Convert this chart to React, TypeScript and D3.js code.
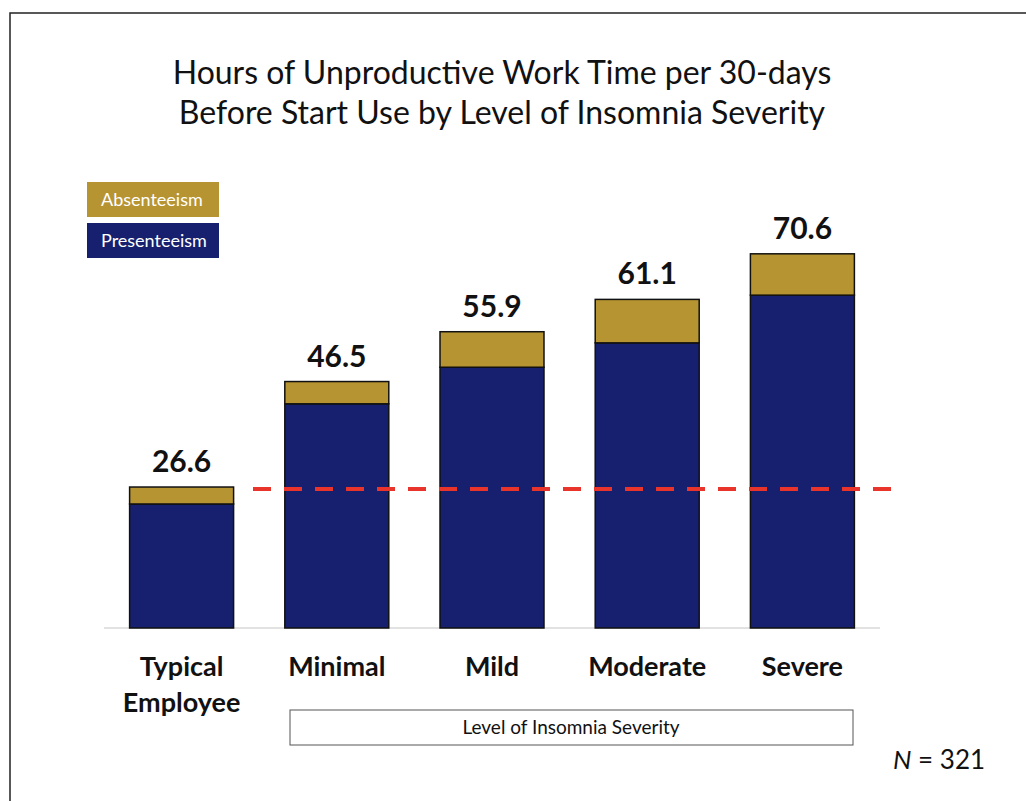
import React, { useEffect, useRef } from 'react';
import * as d3 from 'd3';

const categories = ['Typical\nEmployee', 'Minimal', 'Mild', 'Moderate', 'Severe'];
const presenteeism = [23.4, 42.3, 49.2, 53.8, 62.8];
const absenteeism = [3.2, 4.2, 6.7, 8.2, 7.8];
const totals = ['26.6', '46.5', '55.9', '61.1', '70.6'];
const referenceValue = 26.6;
const seriesNames = ['Absenteeism', 'Presenteeism'];
const titleLines = [
  'Hours of Unproductive Work Time per 30-days',
  'Before Start Use by Level of Insomnia Severity',
];

const GOLD = '#b79432';
const NAVY = '#16206e';
const FONT = 'Lato, "Open Sans", sans-serif';

const App = () => {
  const svgRef = useRef<SVGSVGElement>(null);

  useEffect(() => {
    const width = 1026;
    const height = 801;
    const svg = d3.select(svgRef.current).attr('width', width).attr('height', height);
    svg.selectAll('*').remove();

    // outer frame (runs off the right and bottom)
    svg.append('rect')
      .attr('x', 10).attr('y', 13)
      .attr('width', 1030).attr('height', 800)
      .attr('fill', '#fff').attr('stroke', '#222').attr('stroke-width', 1.5);

    svg.selectAll('text.title')
      .data(titleLines)
      .join('text')
      .attr('class', 'title')
      .attr('x', 502)
      .attr('y', (d, i) => 84 + i * 40)
      .attr('text-anchor', 'middle')
      .style('font-family', FONT)
      .style('font-size', '32px')
      .attr('fill', '#111')
      .text(d => d);

    const x = d3.scaleBand()
      .domain(categories)
      .range([104, 880])
      .paddingInner(0.33)
      .paddingOuter(0.165);

    const y = d3.scaleLinear().domain([0, 80]).range([628, 204]);

    const stacked = categories.map((c, i) => ({ c, p: presenteeism[i], a: absenteeism[i], t: totals[i] }));

    const g = svg.append('g');

    // baseline
    g.append('line')
      .attr('x1', 104).attr('x2', 880)
      .attr('y1', y(0)).attr('y2', y(0))
      .attr('stroke', '#d9d9d9').attr('stroke-width', 1.5);

    g.selectAll('rect.pres')
      .data(stacked)
      .join('rect')
      .attr('class', 'pres')
      .attr('x', d => x(d.c)!)
      .attr('width', x.bandwidth())
      .attr('y', d => y(d.p))
      .attr('height', d => y(0) - y(d.p))
      .attr('fill', NAVY)
      .attr('stroke', '#111')
      .attr('stroke-width', 1.5);

    g.selectAll('rect.abs')
      .data(stacked)
      .join('rect')
      .attr('class', 'abs')
      .attr('x', d => x(d.c)!)
      .attr('width', x.bandwidth())
      .attr('y', d => y(d.p + d.a))
      .attr('height', d => y(d.p) - y(d.p + d.a))
      .attr('fill', GOLD)
      .attr('stroke', '#111')
      .attr('stroke-width', 1.5);

    g.selectAll('text.total')
      .data(stacked)
      .join('text')
      .attr('class', 'total')
      .attr('x', d => x(d.c)! + x.bandwidth() / 2)
      .attr('y', d => y(d.p + d.a) - 15)
      .attr('text-anchor', 'middle')
      .style('font-family', FONT)
      .style('font-size', '30px')
      .style('font-weight', 'bold')
      .attr('fill', '#111')
      .text(d => d.t);

    // reference dashed line
    g.append('line')
      .attr('x1', 253).attr('x2', 892)
      .attr('y1', y(referenceValue) + 2).attr('y2', y(referenceValue) + 2)
      .attr('stroke', '#e8342a')
      .attr('stroke-width', 4)
      .attr('stroke-dasharray', '18,13');

    // category labels
    const labels = g.selectAll('text.cat')
      .data(categories)
      .join('text')
      .attr('class', 'cat')
      .attr('x', d => x(d)! + x.bandwidth() / 2)
      .attr('y', 676)
      .attr('text-anchor', 'middle')
      .style('font-family', FONT)
      .style('font-size', '27px')
      .style('font-weight', 'bold')
      .attr('fill', '#111');
    labels.each(function (d) {
      const el = d3.select(this);
      d.split('\n').forEach((line, i) => {
        el.append('tspan')
          .attr('x', x(d)! + x.bandwidth() / 2)
          .attr('dy', i === 0 ? 0 : 36)
          .text(line);
      });
    });

    // legend
    const legend = svg.append('g');
    const legendColors = [GOLD, NAVY];
    seriesNames.forEach((name, i) => {
      legend.append('rect')
        .attr('x', 87).attr('y', 182 + i * 41)
        .attr('width', 132).attr('height', 35)
        .attr('fill', legendColors[i]);
      legend.append('text')
        .attr('x', 101).attr('y', 206 + i * 41)
        .style('font-family', FONT)
        .style('font-size', '18px')
        .attr('fill', '#fff')
        .text(name);
    });

    // axis title box
    svg.append('rect')
      .attr('x', 290).attr('y', 710)
      .attr('width', 563).attr('height', 35)
      .attr('fill', '#fff').attr('stroke', '#555').attr('stroke-width', 1);
    svg.append('text')
      .attr('x', 571).attr('y', 734)
      .attr('text-anchor', 'middle')
      .style('font-family', FONT)
      .style('font-size', '19px')
      .attr('fill', '#111')
      .text('Level of Insomnia Severity');

    const n = svg.append('text')
      .attr('x', 893).attr('y', 769)
      .style('font-family', FONT)
      .style('font-size', '26px')
      .attr('fill', '#111');
    n.append('tspan').style('font-style', 'italic').text('N');
    n.append('tspan').text(' = 321');
  }, []);

  return <svg ref={svgRef} style={{ position: 'absolute', left: 0, top: 0 }}></svg>;
};

export default App;
